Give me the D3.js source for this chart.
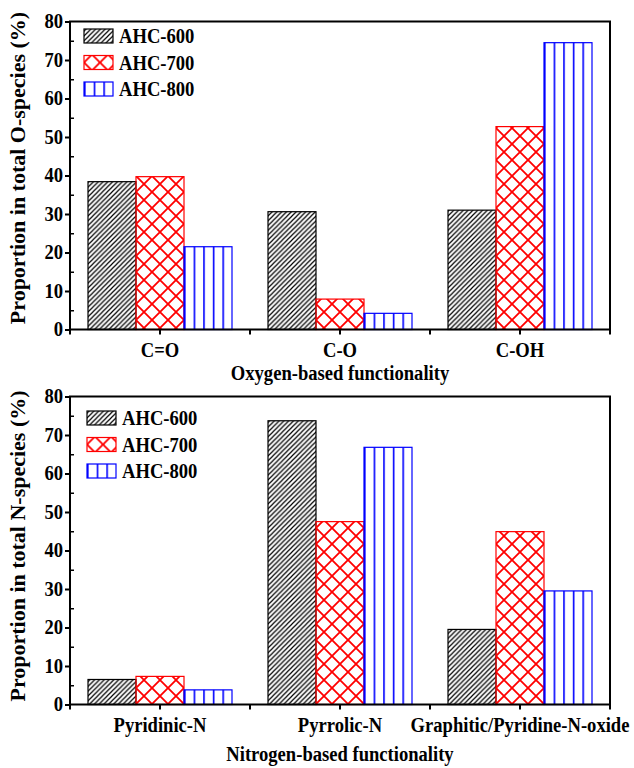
<!DOCTYPE html>
<html>
<head>
<meta charset="utf-8">
<script src="https://cdn.jsdelivr.net/npm/d3@7"></script>
<style>
  body { margin: 0; background: #fff; }
  svg { display: block; }
  text { font-family: "Liberation Serif", "Times New Roman", serif; font-weight: bold; fill: #000; }
</style>
</head>
<body>
<div id="chart"></div>
<script>
const series = ["AHC-600", "AHC-700", "AHC-800"];

const oxygenCats = ["C=O", "C-O", "C-OH"];
const oxygen600 = [38.4, 30.6, 31.0];
const oxygen700 = [39.7, 7.9, 52.7];
const oxygen800 = [21.5, 4.2, 74.5];

const nitrogenCats = ["Pyridinic-N", "Pyrrolic-N", "Graphitic/Pyridine-N-oxide"];
const nitrogen600 = [6.5, 73.7, 19.5];
const nitrogen700 = [7.3, 47.5, 44.9];
const nitrogen800 = [3.8, 66.8, 29.5];

const yTicks = [0, 10, 20, 30, 40, 50, 60, 70, 80];
const yMinor = [5, 15, 25, 35, 45, 55, 65, 75];

const W = 634, H = 768;
const SX = 0.93; // glyphs look a bit narrow in the original

const svg = d3.select("#chart").append("svg")
    .attr("width", W)
    .attr("height", H);

const defs = svg.append("defs");

// black diagonal hatch
const p1 = defs.append("pattern")
    .attr("id", "hatch")
    .attr("patternUnits", "userSpaceOnUse")
    .attr("width", 4.8).attr("height", 4.8);
p1.append("path")
    .attr("d", "M-1,1 l2,-2 M0,4.8 l4.8,-4.8 M3.8,5.8 l2,-2")
    .attr("stroke", "#000").attr("stroke-width", 1.2);

// red cross hatch
const p2 = defs.append("pattern")
    .attr("id", "cross")
    .attr("patternUnits", "userSpaceOnUse")
    .attr("width", 16).attr("height", 16);
p2.append("path")
    .attr("d", "M0,0 L16,16 M0,16 L16,0")
    .attr("stroke", "#f00").attr("stroke-width", 1.8);

// blue vertical stripes, tile width as fraction of the bar
function stripes(id, frac) {
    const p = defs.append("pattern")
        .attr("id", id)
        .attr("patternUnits", "objectBoundingBox")
        .attr("width", frac).attr("height", 1);
    p.append("rect")
        .attr("x", 0).attr("y", 0)
        .attr("width", 1.6).attr("height", 2000)
        .attr("fill", "#00f");
}
stripes("vline", 0.2);
stripes("vline-leg", 1 / 3);

const fills = ["url(#hatch)", "url(#cross)", "url(#vline)"];
const legFills = ["url(#hatch)", "url(#cross)", "url(#vline-leg)"];
const strokes = ["#000", "#f00", "#00f"];

function label(g, x, y, str, anchor) {
    return g.append("text")
        .attr("transform", `translate(${x},${y}) scale(${SX},1)`)
        .attr("text-anchor", anchor || "middle")
        .style("font-size", "20px")
        .text(str);
}

function panel(cfg) {
    const g = svg.append("g");
    const left = 70, right = 610;

    const x = d3.scaleBand()
        .domain(cfg.cats)
        .range([left, right])
        .paddingInner(0.2)
        .paddingOuter(0.1);
    const xs = d3.scaleBand()
        .domain(series)
        .range([0, x.bandwidth()]);
    const y = d3.scaleLinear()
        .domain([0, 80])
        .range([cfg.bottom, cfg.top]);

    const rows = cfg.cats.map((c, i) => ({ cat: c, vals: cfg.vals.map(v => v[i]) }));

    // bars
    const grp = g.selectAll("g.grp")
        .data(rows)
        .join("g")
        .attr("class", "grp")
        .attr("transform", d => `translate(${x(d.cat)},0)`);
    grp.selectAll("rect")
        .data(d => d.vals.map((v, k) => ({ s: series[k], k, v })))
        .join("rect")
        .attr("x", d => xs(d.s))
        .attr("y", d => y(d.v))
        .attr("width", xs.bandwidth())
        .attr("height", d => y(0) - y(d.v))
        .attr("fill", d => fills[d.k])
        .attr("stroke", d => strokes[d.k])
        .attr("stroke-width", 1.2);

    // frame
    g.append("rect")
        .attr("x", left).attr("y", y(80))
        .attr("width", right - left).attr("height", y(0) - y(80))
        .attr("fill", "none")
        .attr("stroke", "#000")
        .attr("stroke-width", 2);

    // y axis
    const ya = g.append("g")
        .attr("transform", `translate(${left},0)`)
        .call(d3.axisLeft(y).tickValues(yTicks).tickSize(5).tickFormat(""));
    ya.select(".domain").remove();
    ya.selectAll("line").attr("stroke-width", 2);
    const ym = g.append("g")
        .attr("transform", `translate(${left},0)`)
        .call(d3.axisLeft(y).tickValues(yMinor).tickSize(-4).tickFormat(""));
    ym.select(".domain").remove();
    ym.selectAll("line").attr("stroke-width", 1.5);
    yTicks.forEach(t => label(g, 63, y(t) + 6.5, t, "end"));

    // x ticks at group centres and group edges
    const step = x.step();
    const xt = [left, right];
    cfg.cats.forEach(c => xt.push(x(c) + x.bandwidth() / 2));
    cfg.cats.slice(1).forEach(c => xt.push(x(c) - x.paddingInner() * step / 2));
    g.selectAll("line.xt")
        .data(xt)
        .join("line")
        .attr("class", "xt")
        .attr("x1", d => d).attr("x2", d => d)
        .attr("y1", y(0)).attr("y2", y(0) + 5)
        .attr("stroke", "#000").attr("stroke-width", 2);

    cfg.cats.forEach(c => label(g, x(c) + x.bandwidth() / 2, cfg.catY, c));
    label(g, (left + right) / 2, cfg.titleY, cfg.xTitle);

    // y title, rotated; glyph height squeezed like the rest
    g.append("text")
        .attr("transform", `translate(25,${cfg.yTitleMid}) rotate(-90) scale(1,${SX})`)
        .attr("text-anchor", "middle")
        .style("font-size", "22px")
        .text(cfg.yTitle);

    // legend
    const leg = g.selectAll("g.leg")
        .data(series)
        .join("g")
        .attr("class", "leg")
        .attr("transform", (d, i) => `translate(${cfg.legX},${cfg.legY + i * 26.5})`);
    leg.append("rect")
        .attr("x", 0).attr("y", -7)
        .attr("width", 29).attr("height", 14)
        .attr("fill", (d, i) => legFills[i])
        .attr("stroke", (d, i) => strokes[i])
        .attr("stroke-width", 1.2);
    leg.each(function (d) { label(d3.select(this), 35, 7, d, "start"); });
}

panel({
    cats: oxygenCats,
    vals: [oxygen600, oxygen700, oxygen800],
    top: 21.5, bottom: 329.5,
    catY: 357, titleY: 380,
    xTitle: "Oxygen-based functionality",
    yTitle: "Proportion in total O-species (%)",
    yTitleMid: 168,
    legX: 84, legY: 36
});

panel({
    cats: nitrogenCats,
    vals: [nitrogen600, nitrogen700, nitrogen800],
    top: 396.5, bottom: 704.5,
    catY: 732, titleY: 761,
    xTitle: "Nitrogen-based functionality",
    yTitle: "Proportion in total N-species (%)",
    yTitleMid: 546,
    legX: 87, legY: 418
});
</script>
</body>
</html>
